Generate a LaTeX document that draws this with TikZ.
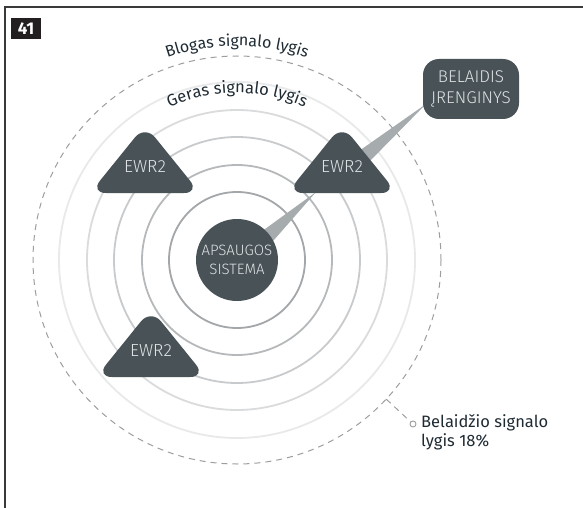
\documentclass[tikz,border=0pt]{standalone}
\usepackage{fontspec}
\setmainfont{Fira Sans}
\newfontfamily\lightfont{Fira Sans Light}
\usetikzlibrary{decorations.text,calc}
\definecolor{darkfill}{HTML}{485257}
\definecolor{lighttext}{HTML}{DFE3E5}
\definecolor{textdark}{HTML}{1F2B33}
\definecolor{wedge}{HTML}{A6ABAE}
\definecolor{ringA}{HTML}{A3A7AA}
\definecolor{ringB}{HTML}{B6B9BB}
\definecolor{ringC}{HTML}{C8CBCD}
\definecolor{ringD}{HTML}{D9DBDC}
\definecolor{ringE}{HTML}{E8E9EA}
\definecolor{dashgray}{HTML}{9C9FA1}
\definecolor{framecol}{HTML}{3A3A3A}
\definecolor{badge}{HTML}{231F20}
\pgfdeclarelayer{bg}
\pgfdeclarelayer{paper}
\pgfsetlayers{paper,bg,main}
\tikzset{
  ring/.style={line width=1.8pt},
  ewrtext/.style={text=lighttext,font=\lightfont\fontsize{17.5}{19}\selectfont,inner sep=0pt},
  trifill/.style={fill=darkfill,rounded corners=16pt},
  wedgefill/.style={fill=wedge},
  arclabel/.style={decorate,decoration={text along path,text align=center,text color=textdark}},
}
\newcommand\ewrtri[2]{%
  \fill[trifill] ($(#2)+(-55,26)$) -- ($(#2)+(0,-42)$) -- ($(#2)+(55,26)$) -- cycle;
  \node[ewrtext] (#1) at (#2) {EWR2};
}
\begin{document}
\begin{tikzpicture}[x=1pt,y=-1pt]
\useasboundingbox (0,0) rectangle (583,508);
\begin{pgfonlayer}{paper}
\fill[white] (0,0) rectangle (583,508);
\end{pgfonlayer}
% frame
\draw[framecol,line width=1.5pt] (5,508) -- (5,7) -- (583,7);
\node[fill=badge,text=white,font=\bfseries\fontsize{17}{17}\selectfont,minimum width=30pt,minimum height=21pt,inner sep=0pt] (badge) at (26,28.5) {41};

\coordinate (c) at (237,260);
\begin{pgfonlayer}{bg}
\draw[ring,ringE] (c) circle[radius=178];
\draw[ring,ringD] (c) circle[radius=150];
\draw[ring,ringC] (c) circle[radius=123];
\draw[ring,ringB] (c) circle[radius=95];
\draw[ring,ringA] (c) circle[radius=68];
\draw[dashgray,line width=1pt,dash pattern=on 6pt off 5pt] (c) circle[radius=204];
\end{pgfonlayer}

% arc labels
\path[arclabel,decoration={text={|\fontsize{16}{18}\selectfont|Blogas signalo lygis}}]
  ($(c)+(232:214)$) arc[start angle=232,end angle=308,radius=214];
\path[arclabel,decoration={text={|\fontsize{16.5}{18}\selectfont|Geras signalo lygis}}]
  ($(c)+(225:167)$) arc[start angle=225,end angle=315,radius=167];

% central system
\node[circle,fill=darkfill,minimum size=82pt,inner sep=0pt,align=center,text=lighttext,
      font=\lightfont\fontsize{15}{19}\selectfont] (aps) at (c) {APSAUGOS\\SISTEMA};

% repeaters
\ewrtri{e1}{145,167}
\ewrtri{e2}{342,167}
\ewrtri{e3}{151,351}

% wireless device
\node[fill=darkfill,rounded corners=16pt,minimum width=96pt,minimum height=60pt,inner sep=0pt,
      align=center,text=lighttext,font=\lightfont\fontsize{17}{21}\selectfont] (dev) at (471,89)
      {BELAIDIS\\ĮRENGINYS};

% wedges
\coordinate (t1) at ($(e2)+(-26,25)$);
\coordinate (b2a) at ($(e2)+(17,-16)$);
\coordinate (b2b) at ($(e2)+(25,-3)$);
\coordinate (t2) at ($(dev)+(-45,15)$);
\begin{pgfonlayer}{bg}
\fill[wedgefill] (aps.center) -- (aps.28) -- (t1) -- (aps.48) -- cycle;
\fill[wedgefill] (b2a) -- (t2) -- (b2b) -- cycle;
\end{pgfonlayer}

% signal level label
\coordinate (lead) at ($(c)+(43:204)$);
\node[circle,draw=dashgray,fill=white,line width=0.9pt,minimum size=6pt,inner sep=0pt] (mark) at (413,424) {};
\begin{pgfonlayer}{bg}
\draw[dashgray,line width=1pt,dash pattern=on 6pt off 5pt] (lead) -- (mark);
\end{pgfonlayer}
\node[anchor=north west,inner sep=0pt,align=left,text=textdark,font=\fontsize{16.5}{19.5}\selectfont] (lbl) at (421,414)
  {Belaidžio signalo\\lygis 18\%};
\end{tikzpicture}
\end{document}
